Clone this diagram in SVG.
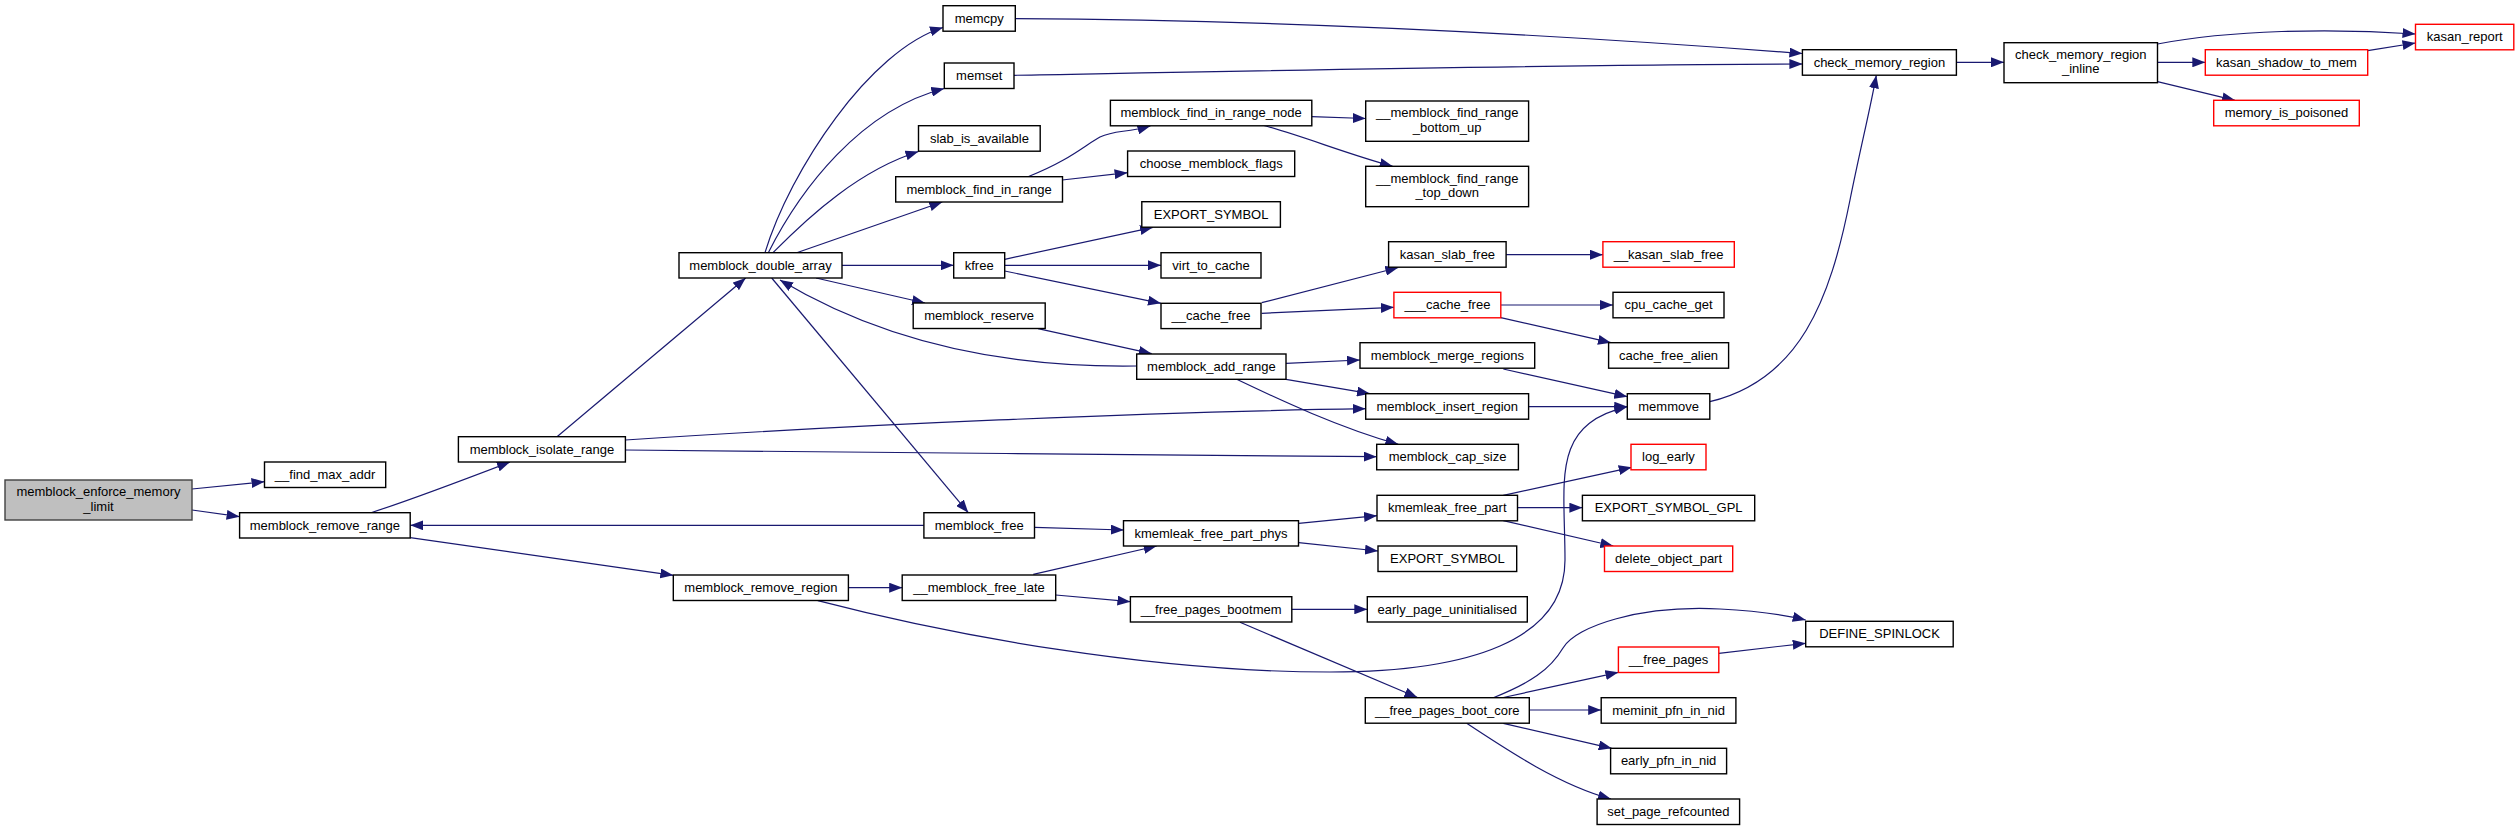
<svg xmlns="http://www.w3.org/2000/svg" width="2519" height="831" viewBox="0 0 2519 831">
<style>
.nd rect{fill:#fff;stroke:#000;stroke-width:1.4}
.nd.red rect{stroke:#ff0000}
.nd.root rect{fill:#bfbfbf;stroke:#404040}
.nd text{font-family:"Liberation Sans",Arial,sans-serif;font-size:13px;fill:#000;text-anchor:middle}
#edges path{fill:none;stroke:#191970;stroke-width:1.2;marker-end:url(#ah)}
</style>
<defs>
<marker id="ah" markerUnits="userSpaceOnUse" markerWidth="13" markerHeight="10" refX="13" refY="5" orient="auto" viewBox="0 0 13 10"><path d="M0,0L13,5L0,10z" fill="#191970"/></marker>
</defs>
<rect width="2519" height="831" fill="#fff"/>
<g id="edges">
<path d="M192,489 L264.5,481.7"/>
<path d="M192,510 L239.6,516.7"/>
<path d="M371,512.7 C410,500 450,485 510,462"/>
<path d="M410.2,537.7 L673.3,575.3"/>
<path d="M557,436.7 L745.7,278"/>
<path d="M625.3,440 C850,425 1150,412 1365.7,408.7"/>
<path d="M625.3,450 C850,452 1150,455 1376.7,456.7"/>
<path d="M765,252.7 C790,170 870,50 943,27.5"/>
<path d="M768.3,252.7 C800,190 860,110 944.3,88.5"/>
<path d="M773,252.7 C810,215 860,170 918.5,151.5"/>
<path d="M796.7,252.7 L942.3,202"/>
<path d="M842,265.3 L953.7,265.3"/>
<path d="M816,278 L925,303"/>
<path d="M771.7,278 L968.3,512.7"/>
<path d="M1136.7,366 C1000,368 880,340 780,280"/>
<path d="M923.9,525.3 L410.2,525.3"/>
<path d="M1015.3,18.7 C1300,20 1600,38 1802.4,53.5"/>
<path d="M1014,75.3 C1300,70 1600,64 1802.4,64"/>
<path d="M1028,176.7 C1070,160 1085,145 1100,137 C1115,130 1125,133 1150.4,126"/>
<path d="M1062.2,180 L1127.6,172.7"/>
<path d="M1311.8,116.7 L1365.7,118.5"/>
<path d="M1262,125 C1300,135 1350,155 1392.7,166.3"/>
<path d="M1004.7,259.3 L1153,227.3"/>
<path d="M1004.7,265.3 L1161,265.3"/>
<path d="M1004.7,271 L1161,303.3"/>
<path d="M1261.7,302.7 L1398.3,267.5"/>
<path d="M1261.7,313.3 L1393.9,307.3"/>
<path d="M1506.1,254.7 L1602.9,254.7"/>
<path d="M1500.8,305 L1613,305"/>
<path d="M1500.8,317.7 L1611,342.7"/>
<path d="M1038,328.7 L1151.7,353.7"/>
<path d="M1286,363.3 L1360,360"/>
<path d="M1286,379.3 L1370,393.7"/>
<path d="M1236.7,379.3 C1280,400 1340,428 1398.3,444.3"/>
<path d="M1503.3,369 L1627.3,396.7"/>
<path d="M1528.6,406.7 L1627.3,406.7"/>
<path d="M1709.8,401.7 C1800,380 1830,300 1850,200 C1860,150 1870,110 1876.3,75.3"/>
<path d="M1956.2,62.3 L2004,62.3"/>
<path d="M2157.5,44 C2230,30 2330,28 2415.5,34"/>
<path d="M2157.5,62.3 L2205.3,62.3"/>
<path d="M2157.5,81.7 L2235,100.3"/>
<path d="M2367.7,50.7 L2415.5,43"/>
<path d="M1034.5,527.3 L1123.9,530"/>
<path d="M848.4,587.7 L902.2,587.7"/>
<path d="M817.8,600.7 C950,635 1150,672 1330,672 C1470,672 1565,640 1565,560 C1565,480 1550,425 1627.3,406.7"/>
<path d="M1033.3,574.3 L1156.7,546"/>
<path d="M1055.7,595 L1130.4,601.7"/>
<path d="M1298.7,523.3 L1377,515.7"/>
<path d="M1298.7,542.7 L1378,551"/>
<path d="M1503.3,495.3 L1631.7,467.3"/>
<path d="M1517.6,507.7 L1582.4,507.7"/>
<path d="M1503.3,520.7 L1613.3,546"/>
<path d="M1291.8,609.3 L1367.3,609.3"/>
<path d="M1240,622.3 L1417.5,697.5"/>
<path d="M1493.3,697.7 C1530,683 1550,670 1563,648 C1576,626 1640,605 1720,609 C1760,611 1785,615 1805.7,620"/>
<path d="M1503.3,697.5 L1618.4,672.3"/>
<path d="M1529.3,710 L1601.2,710"/>
<path d="M1503.3,723.3 L1611.7,748.3"/>
<path d="M1466.7,723.3 C1510,752 1560,785 1611,799"/>
<path d="M1718.8,653.3 L1805.7,643.3"/>
</g>
<g id="n_memblock_enforce_memory_limit" class="nd root"><rect x="5" y="480" width="187" height="40"/><text x="98.5" y="496">memblock_enforce_memory</text><text x="98.5" y="510.5">_limit</text></g>
<g id="n_find_max_addr" class="nd"><rect x="264.5" y="462" width="121.2" height="25.5"/><text x="325.1" y="479.2">__find_max_addr</text></g>
<g id="n_memblock_remove_range" class="nd"><rect x="239.6" y="512.7" width="170.6" height="25.3"/><text x="324.9" y="529.6">memblock_remove_range</text></g>
<g id="n_memblock_isolate_range" class="nd"><rect x="458.4" y="436.7" width="167" height="25.3"/><text x="541.9" y="453.6">memblock_isolate_range</text></g>
<g id="n_memblock_double_array" class="nd"><rect x="679" y="252.7" width="163" height="25.3"/><text x="760.5" y="269.6">memblock_double_array</text></g>
<g id="n_memcpy" class="nd"><rect x="943" y="5.7" width="72.3" height="25.5"/><text x="979.2" y="22.6">memcpy</text></g>
<g id="n_memset" class="nd"><rect x="944.3" y="63" width="69.7" height="25.5"/><text x="979.2" y="79.9">memset</text></g>
<g id="n_slab_is_available" class="nd"><rect x="918.5" y="125.7" width="121.7" height="25.5"/><text x="979.4" y="142.6">slab_is_available</text></g>
<g id="n_memblock_find_in_range" class="nd"><rect x="895.7" y="176.7" width="166.8" height="25.3"/><text x="979.1" y="193.6">memblock_find_in_range</text></g>
<g id="n_kfree" class="nd"><rect x="953.7" y="252.7" width="51" height="25.3"/><text x="979.2" y="269.6">kfree</text></g>
<g id="n_memblock_reserve" class="nd"><rect x="913.2" y="303" width="132" height="25.5"/><text x="979.2" y="319.9">memblock_reserve</text></g>
<g id="n_memblock_free" class="nd"><rect x="923.9" y="512.7" width="110.6" height="25.3"/><text x="979.2" y="529.6">memblock_free</text></g>
<g id="n_memblock_remove_region" class="nd"><rect x="673.3" y="575" width="175.1" height="25.5"/><text x="760.9" y="591.9">memblock_remove_region</text></g>
<g id="n_memblock_free_late" class="nd"><rect x="902.2" y="575" width="153.5" height="25.5"/><text x="979" y="591.9">__memblock_free_late</text></g>
<g id="n_memblock_find_in_range_node" class="nd"><rect x="1110.4" y="100.3" width="201.4" height="25.5"/><text x="1211.1" y="117.2">memblock_find_in_range_node</text></g>
<g id="n_choose_memblock_flags" class="nd"><rect x="1127.6" y="151" width="167.1" height="25.5"/><text x="1211.2" y="167.9">choose_memblock_flags</text></g>
<g id="n_export_symbol_a" class="nd"><rect x="1141.8" y="201.7" width="138.6" height="25.5"/><text x="1211.1" y="218.6">EXPORT_SYMBOL</text></g>
<g id="n_virt_to_cache" class="nd"><rect x="1161" y="252.7" width="100" height="25.3"/><text x="1211" y="269.6">virt_to_cache</text></g>
<g id="n_cache_free" class="nd"><rect x="1161" y="303.3" width="100" height="25.3"/><text x="1211" y="320.2">__cache_free</text></g>
<g id="n_memblock_add_range" class="nd"><rect x="1136.7" y="354" width="149.3" height="25.3"/><text x="1211.4" y="370.9">memblock_add_range</text></g>
<g id="n_kmemleak_free_part_phys" class="nd"><rect x="1123.5" y="520.7" width="175" height="25.3"/><text x="1211" y="537.6">kmemleak_free_part_phys</text></g>
<g id="n_free_pages_bootmem" class="nd"><rect x="1130.4" y="596.7" width="161.4" height="25.3"/><text x="1211.1" y="613.6">__free_pages_bootmem</text></g>
<g id="n_memblock_find_range_bottom_up" class="nd"><rect x="1365.7" y="101" width="162.9" height="40.3"/><text x="1447.2" y="117.2">__memblock_find_range</text><text x="1447.2" y="131.6">_bottom_up</text></g>
<g id="n_memblock_find_range_top_down" class="nd"><rect x="1365.7" y="166.3" width="162.9" height="40.4"/><text x="1447.2" y="182.5">__memblock_find_range</text><text x="1447.2" y="197">_top_down</text></g>
<g id="n_kasan_slab_free" class="nd"><rect x="1388.6" y="241.7" width="117.5" height="25.5"/><text x="1447.4" y="258.6">kasan_slab_free</text></g>
<g id="n___cache_free" class="nd red"><rect x="1393.9" y="292.3" width="106.9" height="25.5"/><text x="1447.4" y="309.2">___cache_free</text></g>
<g id="n_memblock_merge_regions" class="nd"><rect x="1360" y="342.7" width="174.7" height="25.5"/><text x="1447.4" y="359.6">memblock_merge_regions</text></g>
<g id="n_memblock_insert_region" class="nd"><rect x="1365.7" y="393.7" width="162.9" height="25.5"/><text x="1447.2" y="410.6">memblock_insert_region</text></g>
<g id="n_memblock_cap_size" class="nd"><rect x="1376.7" y="444.3" width="141.7" height="25.5"/><text x="1447.6" y="461.2">memblock_cap_size</text></g>
<g id="n_kmemleak_free_part" class="nd"><rect x="1377" y="495.3" width="140.5" height="25.5"/><text x="1447.3" y="512.2">kmemleak_free_part</text></g>
<g id="n_export_symbol_b" class="nd"><rect x="1378" y="546" width="138.7" height="25.5"/><text x="1447.4" y="562.9">EXPORT_SYMBOL</text></g>
<g id="n_early_page_uninitialised" class="nd"><rect x="1367.3" y="596.7" width="160" height="25.3"/><text x="1447.3" y="613.6">early_page_uninitialised</text></g>
<g id="n_free_pages_boot_core" class="nd"><rect x="1365.3" y="697.7" width="164" height="25.5"/><text x="1447.3" y="714.6">__free_pages_boot_core</text></g>
<g id="n_kasan_slab_free2" class="nd red"><rect x="1602.9" y="241.7" width="131.4" height="25.5"/><text x="1668.6" y="258.6">__kasan_slab_free</text></g>
<g id="n_cpu_cache_get" class="nd"><rect x="1613" y="292.3" width="111" height="25.5"/><text x="1668.5" y="309.2">cpu_cache_get</text></g>
<g id="n_cache_free_alien" class="nd"><rect x="1608.6" y="342.7" width="120" height="25.5"/><text x="1668.6" y="359.6">cache_free_alien</text></g>
<g id="n_memmove" class="nd"><rect x="1627.3" y="393.7" width="82.5" height="25.5"/><text x="1668.6" y="410.6">memmove</text></g>
<g id="n_log_early" class="nd red"><rect x="1631" y="444.3" width="75" height="25.5"/><text x="1668.5" y="461.2">log_early</text></g>
<g id="n_export_symbol_gpl" class="nd"><rect x="1582.4" y="495.3" width="172.3" height="25.5"/><text x="1668.6" y="512.2">EXPORT_SYMBOL_GPL</text></g>
<g id="n_delete_object_part" class="nd red"><rect x="1604.5" y="546" width="128.2" height="25.5"/><text x="1668.6" y="562.9">delete_object_part</text></g>
<g id="n_free_pages" class="nd red"><rect x="1618.4" y="647" width="100.4" height="25.5"/><text x="1668.6" y="663.9">__free_pages</text></g>
<g id="n_meminit_pfn_in_nid" class="nd"><rect x="1601.2" y="697.7" width="134.7" height="25.5"/><text x="1668.6" y="714.6">meminit_pfn_in_nid</text></g>
<g id="n_early_pfn_in_nid" class="nd"><rect x="1610.6" y="748.3" width="116" height="25.5"/><text x="1668.6" y="765.2">early_pfn_in_nid</text></g>
<g id="n_set_page_refcounted" class="nd"><rect x="1597.1" y="799" width="142.5" height="25.5"/><text x="1668.4" y="815.9">set_page_refcounted</text></g>
<g id="n_check_memory_region" class="nd"><rect x="1802.4" y="49.7" width="154" height="25.5"/><text x="1879.4" y="66.6">check_memory_region</text></g>
<g id="n_define_spinlock" class="nd"><rect x="1805.7" y="621.3" width="147.5" height="25.5"/><text x="1879.5" y="638.2">DEFINE_SPINLOCK</text></g>
<g id="n_check_memory_region_inline" class="nd"><rect x="2004" y="42.7" width="153.5" height="40"/><text x="2080.8" y="58.7">check_memory_region</text><text x="2080.8" y="73.2">_inline</text></g>
<g id="n_kasan_shadow_to_mem" class="nd red"><rect x="2205.3" y="49.7" width="162.4" height="25.5"/><text x="2286.5" y="66.6">kasan_shadow_to_mem</text></g>
<g id="n_memory_is_poisoned" class="nd red"><rect x="2213.7" y="100.3" width="145.6" height="25.5"/><text x="2286.5" y="117.2">memory_is_poisoned</text></g>
<g id="n_kasan_report" class="nd red"><rect x="2415.5" y="24.3" width="98.3" height="25.5"/><text x="2464.7" y="41.2">kasan_report</text></g>
</svg>
